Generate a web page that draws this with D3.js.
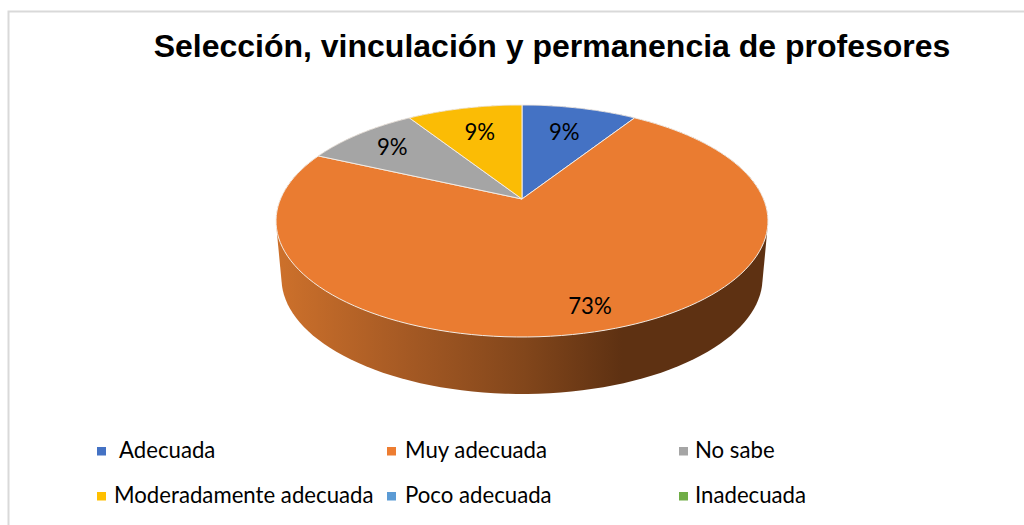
<!DOCTYPE html>
<html><head><meta charset="utf-8">
<script src="https://cdn.jsdelivr.net/npm/d3@7/dist/d3.min.js"></script>
<style>html,body{margin:0;padding:0;background:#fff;overflow:hidden}svg{display:block}</style>
</head><body><svg id="c" width="1024" height="525"></svg>
<script>
const chartTitle = "Selección, vinculación y permanencia de profesores";
const categories = ["Adecuada","Muy adecuada","No sabe","Moderadamente adecuada","Poco adecuada","Inadecuada"];
const counts = [1,8,1,1,0,0];
const colors = ["#4472C4","#ED7D31","#A5A5A5","#FFC000","#5B9BD5","#70AD47"];
const topColors = ["#4472C4","#EA7C31","#A5A5A5","#FBBC05","#5B9BD5","#70AD47"];
const labelRadii = [0.7,0.845,0.78,0.7,0,0];

const svg = d3.select("#c");
const cx=522, R=241.5, apexY=199, ya=74.07, persp=-0.1897, depth=57, depthShrink=0.978;
const project=(x,y,lower=false)=>{
  const d=1+persp*y;
  return [cx+R*x/d*(lower?depthShrink:1),(apexY+ya*y)/d+(lower?depth:0)];
};
const polar=(a,r,lower)=>project(r*Math.sin(a),-r*Math.cos(a),lower);
const arcs=d3.pie().value(d=>d).sort(null)(counts);
const pct=d3.format(".0%");
const total=d3.sum(counts);
const line=d3.line();
const sample=(a0,a1)=>d3.range(0,121).map(i=>a0+(a1-a0)*i/120);
const visible=arcs.filter(d=>d.value>0);

// frame
svg.append("path").attr("d",line([[1024,11.5],[8.5,11.5],[8.5,525]])).attr("fill","none").attr("stroke","#d9d9d9").attr("stroke-width",2);

// wall gradient
const defs=svg.append("defs");
const grad=defs.append("linearGradient").attr("id","wall").attr("gradientUnits","userSpaceOnUse")
  .attr("x1",281).attr("x2",768).attr("y1",0).attr("y2",0);
[[0,"#CC702B"],[0.25,"#A65A24"],[0.5,"#82461B"],[0.7,"#5E3112"],[1,"#5E3112"]].forEach(s=>grad.append("stop").attr("offset",s[0]).attr("stop-color",s[1]));

// side wall of the slices: hull of the upper and lower rims, the top face hides its back
svg.append("g").selectAll("path").data(visible).join("path")
  .attr("d",d=>{
    const as=sample(d.startAngle,d.endAngle);
    return line(d3.polygonHull(as.map(a=>polar(a,1,false)).concat(as.map(a=>polar(a,1,true)))))+"Z";
  })
  .attr("fill",d=>d.index===1?"url(#wall)":d3.color(colors[d.index]).darker(1.2));

// top face
const topPath=d=>{
  const pts=sample(d.startAngle,d.endAngle).map(a=>polar(a,1,false));
  return line([project(0,0)].concat(pts))+"Z";
};
svg.append("g").selectAll("path").data(visible).join("path")
  .attr("d",topPath).attr("fill",d=>topColors[d.index])
  .attr("stroke","#f4ece4").attr("stroke-width",1).attr("stroke-linejoin","round");

// narrow, tall text like the reference's face
const fitText=(sel,x,y)=>sel.attr("transform",(d,i)=>`translate(${x(d,i)},${y(d,i)}) scale(0.925,1)`);

// data labels
const labelPos=d=>polar((d.startAngle+d.endAngle)/2,labelRadii[d.index],false);
svg.append("g").selectAll("text").data(visible).join("text")
  .call(fitText,d=>labelPos(d)[0],d=>labelPos(d)[1]+8)
  .attr("text-anchor","middle").attr("font-family","Lato, 'Noto Sans', sans-serif")
  .attr("font-size",24).attr("fill","#000")
  .text(d=>pct(d.value/total));

// title
svg.append("text").attr("x",552).attr("y",57).attr("text-anchor","middle")
  .attr("font-family","'Liberation Sans', Arial, sans-serif").attr("font-weight","bold")
  .attr("font-size",32).attr("fill","#000").text(chartTitle);

// legend
const col=d3.scaleOrdinal().domain([0,1,2]).range([97,387,679]);
const row=d3.scaleOrdinal().domain([0,1]).range([447,492]);
const textX=[119,405,695,114,405,695];
const lg=svg.append("g").selectAll("g").data(categories).join("g");
lg.append("rect").attr("x",(d,i)=>col(i%3)).attr("y",(d,i)=>row(Math.floor(i/3)))
  .attr("width",9).attr("height",8.5).attr("fill",(d,i)=>colors[i]);
lg.append("text").call(fitText,(d,i)=>textX[i],(d,i)=>row(Math.floor(i/3))+11)
  .attr("font-family","Lato, 'Noto Sans', sans-serif").attr("font-size",24).attr("fill","#000").text(d=>d);
</script></body></html>
